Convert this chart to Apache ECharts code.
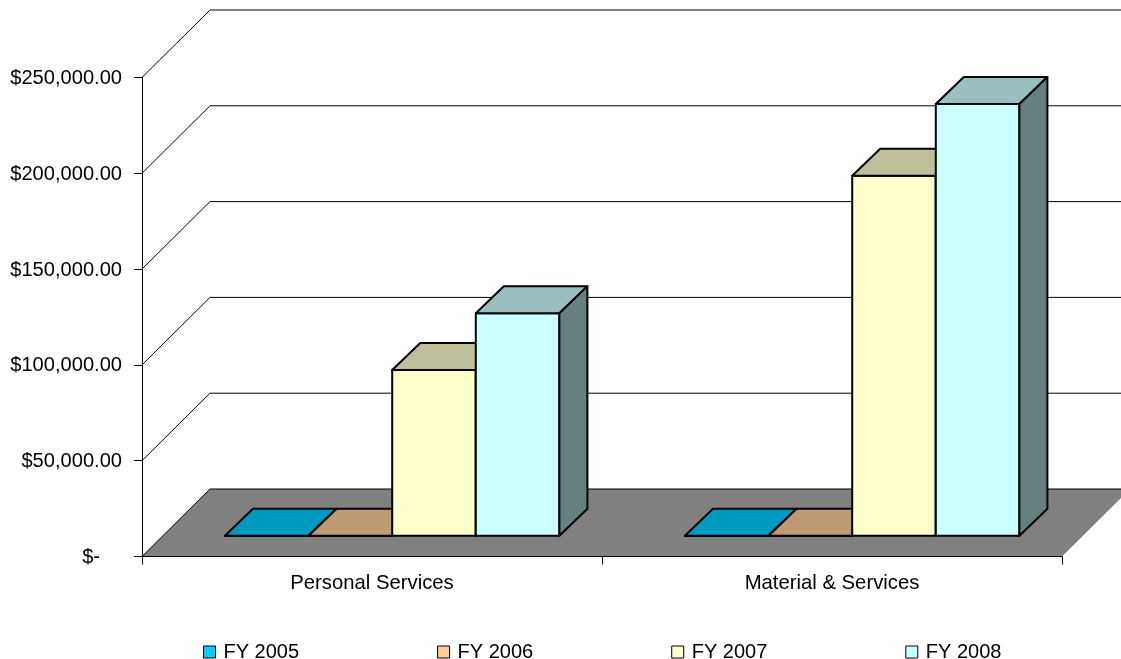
<!DOCTYPE html>
<html>
<head>
<meta charset="utf-8">
<title>Personal Services and Material &amp; Services by fiscal year</title>
<style>
  html, body { margin: 0; padding: 0; background: #fff; }
  #chart { width: 1121px; height: 659px; }
</style>
<script src="https://cdn.jsdelivr.net/npm/echarts@6/dist/echarts.min.js"></script>
</head>
<body>
<div id="chart"></div>
<script>
// Spending per category and fiscal year
const categories = ["Personal Services", "Material & Services"];
const fyNames = ["FY 2005", "FY 2006", "FY 2007", "FY 2008"];
const fy2005 = [0, 0];
const fy2006 = [0, 0];
const fy2007 = [86500, 187900];
const fy2008 = [116100, 225300];
const yTicks = [0, 50000, 100000, 150000, 200000, 250000];
const yTickLabels = ["$-", "$50,000.00", "$100,000.00", "$150,000.00", "$200,000.00", "$250,000.00"];
const fyValues = [fy2005, fy2006, fy2007, fy2008];
const fyColors = ["#00CCFF", "#FFCC99", "#FFFFCC", "#CCFFFF"];

const FONT = '"Liberation Sans", Arial, sans-serif';

// Oblique projection used for the pseudo-3D box
const WALL_DX = 68, WALL_DY = -67.5;     // full depth of the chart floor
const BAR_DX = 28, BAR_DY = -27;         // depth of one column
const BAR_FRONT_DX = 20.2, BAR_FRONT_DY = -20.8; // column front face behind the axis plane
const BAR_WIDTH = 83.6;

function shade(hex, k) {
  const n = parseInt(hex.slice(1), 16);
  const c = [n >> 16, (n >> 8) & 255, n & 255].map(v => Math.round(v * k));
  return `rgb(${c[0]},${c[1]},${c[2]})`;
}

// Gridlines run up the left wall, then along the back wall
function renderWallLine(params, api) {
  const p = api.coord([0, api.value(0)]);
  const band = api.size([1, 0])[0];
  const x0 = p[0] - band / 2, y0 = p[1];
  return {
    type: 'polyline',
    silent: true,
    shape: { points: [[x0, y0], [x0 + WALL_DX, y0 + WALL_DY], [x0 + 2 * band + WALL_DX, y0 + WALL_DY]] },
    style: { stroke: '#000', lineWidth: 1, fill: null }
  };
}

function renderFloor(params, api) {
  const p = api.coord([0, 0]);
  const band = api.size([1, 0])[0];
  const x0 = p[0] - band / 2, y0 = p[1], x1 = x0 + 2 * band;
  return {
    type: 'polygon',
    silent: true,
    shape: { points: [[x0, y0], [x1, y0], [x1 + WALL_DX, y0 + WALL_DY], [x0 + WALL_DX, y0 + WALL_DY]] },
    style: { fill: '#808080' }
  };
}

function renderColumn(seriesPos, color) {
  return function (params, api) {
    const c = api.coord([api.value(0), api.value(1)]);
    const b = api.coord([api.value(0), 0]);
    const left = c[0] + BAR_FRONT_DX - 2 * BAR_WIDTH + seriesPos * BAR_WIDTH;
    const right = left + BAR_WIDTH;
    const top = c[1] + BAR_FRONT_DY;
    const base = b[1] + BAR_FRONT_DY;
    const line = { stroke: '#000', lineWidth: 2, lineJoin: 'round' };
    return {
      type: 'group',
      children: [
        { type: 'polygon',
          shape: { points: [[left, base], [right, base], [right, top], [left, top]] },
          style: Object.assign({ fill: color }, line) },
        { type: 'polygon',
          shape: { points: [[left, top], [right, top], [right + BAR_DX, top + BAR_DY], [left + BAR_DX, top + BAR_DY]] },
          style: Object.assign({ fill: shade(color, 0.75) }, line) },
        { type: 'polygon',
          shape: { points: [[right, base], [right + BAR_DX, base + BAR_DY], [right + BAR_DX, top + BAR_DY], [right, top]] },
          style: Object.assign({ fill: shade(color, 0.5) }, line) }
      ]
    };
  };
}

const chart = echarts.init(document.getElementById('chart'), null, { renderer: 'canvas' });

chart.setOption({
  animation: false,
  backgroundColor: '#fff',
  grid: { left: 142, right: 59, top: 77.5, bottom: 102.5, containLabel: false },
  xAxis: {
    type: 'category',
    data: categories,
    z: 10,
    axisLine: { lineStyle: { color: '#000', width: 1 } },
    axisTick: { show: true, length: 8, lineStyle: { color: '#000', width: 1 } },
    axisLabel: { color: '#000', fontFamily: FONT, fontSize: 20.3, margin: 16.5 }
  },
  yAxis: {
    type: 'value',
    min: 0,
    max: 250000,
    interval: 50000,
    z: 10,
    splitLine: { show: false },
    axisLine: { show: true, lineStyle: { color: '#000', width: 1 } },
    axisTick: { show: true, length: 8, lineStyle: { color: '#000', width: 1 } },
    axisLabel: {
      color: '#000', fontFamily: FONT, fontSize: 20.1, margin: 20, padding: [2, 0, 0, 0],
      formatter: function (v) {
        const text = yTickLabels[yTicks.indexOf(v)];
        return v === 0 ? '{dash|' + text + '}' : text;
      },
      rich: { dash: { color: '#000', fontFamily: FONT, fontSize: 20.1, padding: [0, 22, 0, 0] } }
    }
  },
  legend: {
    data: fyNames.map((name, i) => ({
      name,
      icon: 'rect',
      itemStyle: { color: fyColors[i], borderColor: '#000', borderWidth: 1 }
    })),
    left: 203,
    top: 642,
    orient: 'horizontal',
    itemWidth: 12,
    itemHeight: 12,
    itemGap: 138,
    padding: 0,
    textStyle: { color: '#000', fontFamily: FONT, fontSize: 20, padding: [0, 0, 0, 3] }
  },
  series: [
    { type: 'custom', name: 'walls', coordinateSystem: 'cartesian2d', z: 1,
      renderItem: renderWallLine, data: yTicks.map(v => [v]), encode: { y: 0 }, silent: true },
    { type: 'custom', name: 'floor', coordinateSystem: 'cartesian2d', z: 0,
      renderItem: renderFloor, data: [[0]], encode: { y: 0 }, silent: true }
  ].concat(fyNames.map((name, i) => ({
    type: 'custom',
    name,
    coordinateSystem: 'cartesian2d',
    z: 3 + i,
    itemStyle: { color: fyColors[i] },
    renderItem: renderColumn(i, fyColors[i]),
    encode: { x: 0, y: 1 },
    data: categories.map((c, k) => [c, fyValues[i][k]])
  })))
});
</script>
</body>
</html>
